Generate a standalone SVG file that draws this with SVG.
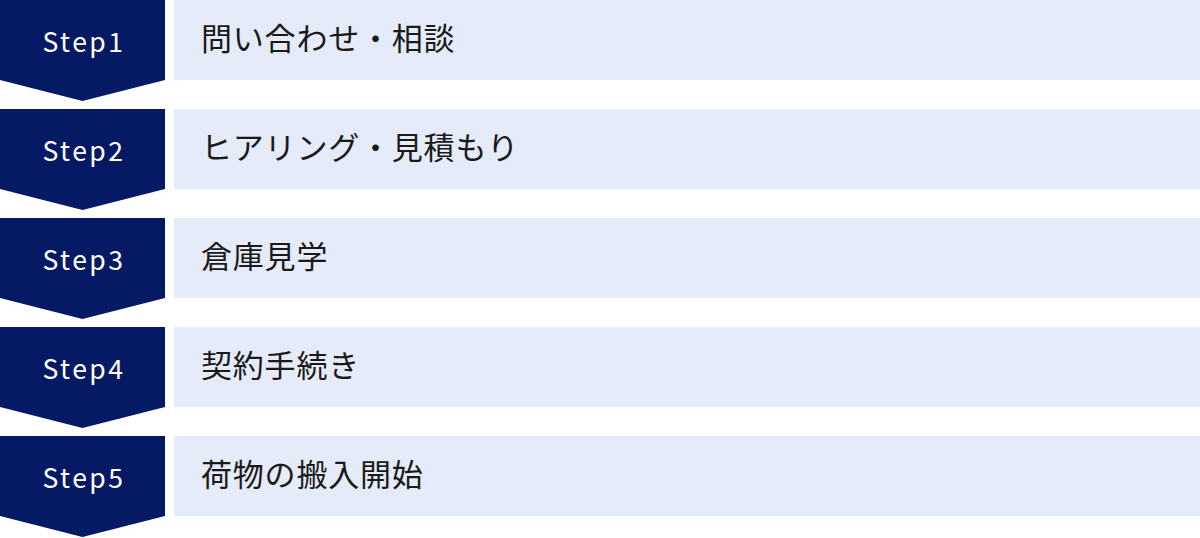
<svg xmlns="http://www.w3.org/2000/svg" width="1200" height="538" viewBox="0 0 1200 538">
<style>
.chev{fill:#061965}
.box{fill:#E5EBF8}
.step{font-family:"Noto Sans CJK JP","Noto Sans",sans-serif;font-size:26.5px;fill:#ffffff;text-anchor:middle;letter-spacing:2.5px}
.label{font-family:"Noto Sans CJK JP",sans-serif;font-size:31px;fill:#1a1a1a;letter-spacing:0.8px}
</style>
<rect width="1200" height="538" fill="#ffffff"/>
<g id="step1" transform="translate(0,0)">
<polygon class="chev" points="0,0 165,0 165,80 82.5,101 0,80"/>
<rect class="box" x="174" y="0" width="1026" height="80"/>
<text class="step" x="84" y="52">Step1</text>
<text class="label" x="201" y="50">問い合わせ・相談</text>
</g>
<g id="step2" transform="translate(0,109)">
<polygon class="chev" points="0,0 165,0 165,80 82.5,101 0,80"/>
<rect class="box" x="174" y="0" width="1026" height="80"/>
<text class="step" x="84" y="52">Step2</text>
<text class="label" x="201" y="50">ヒアリング・見積もり</text>
</g>
<g id="step3" transform="translate(0,218)">
<polygon class="chev" points="0,0 165,0 165,80 82.5,101 0,80"/>
<rect class="box" x="174" y="0" width="1026" height="80"/>
<text class="step" x="84" y="52">Step3</text>
<text class="label" x="201" y="50">倉庫見学</text>
</g>
<g id="step4" transform="translate(0,327)">
<polygon class="chev" points="0,0 165,0 165,80 82.5,101 0,80"/>
<rect class="box" x="174" y="0" width="1026" height="80"/>
<text class="step" x="84" y="52">Step4</text>
<text class="label" x="201" y="50">契約手続き</text>
</g>
<g id="step5" transform="translate(0,436)">
<polygon class="chev" points="0,0 165,0 165,80 82.5,101 0,80"/>
<rect class="box" x="174" y="0" width="1026" height="80"/>
<text class="step" x="84" y="52">Step5</text>
<text class="label" x="201" y="50">荷物の搬入開始</text>
</g>
<g id="connectors"></g>
</svg>
